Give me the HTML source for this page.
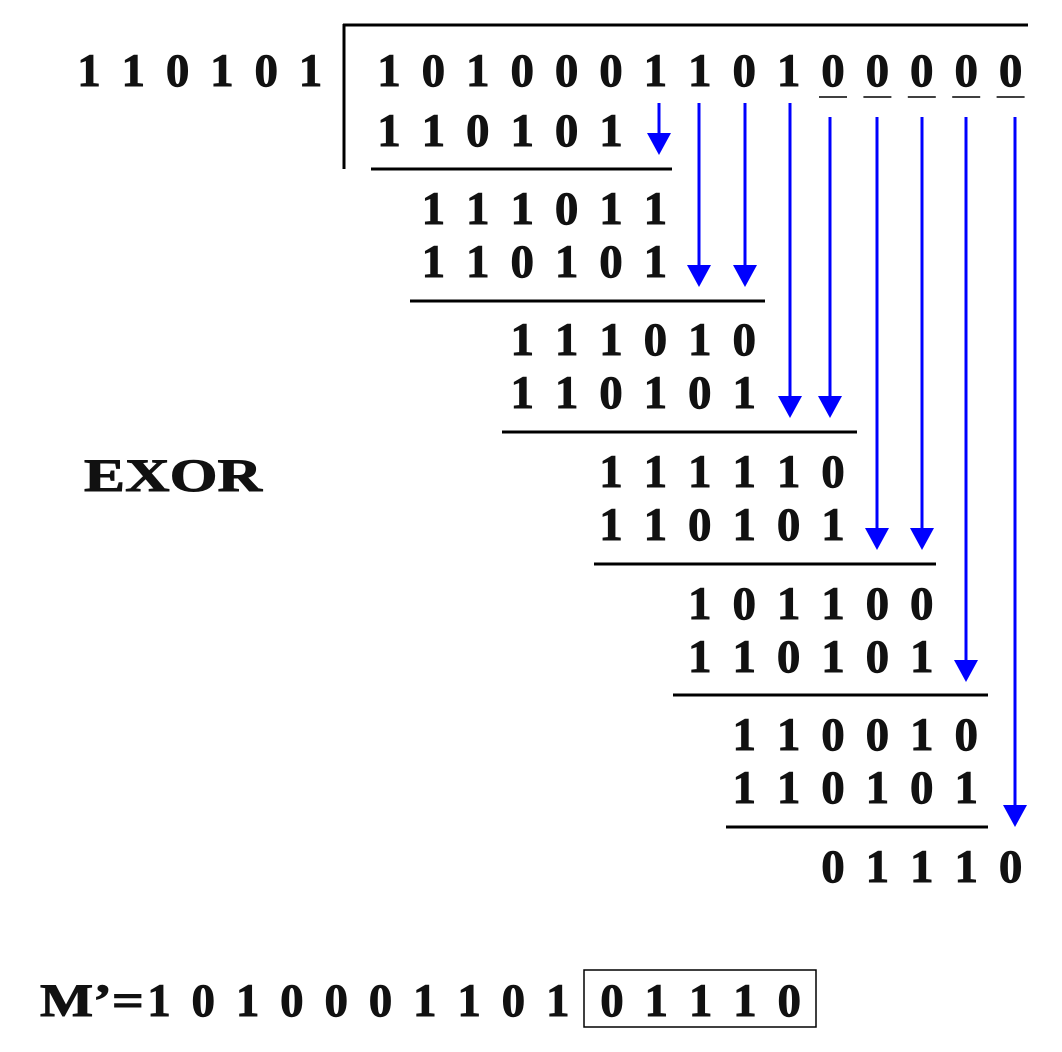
<!DOCTYPE html>
<html><head><meta charset="utf-8"><style>
html,body{margin:0;padding:0;background:#fff}
svg{display:block}
text{font-family:"Liberation Serif",serif;font-weight:bold;font-size:47px;fill:#111;stroke:#111;stroke-width:0.9px}
</style></head><body>
<svg id="s" width="1062" height="1052" viewBox="0 0 1062 1052" xmlns="http://www.w3.org/2000/svg">
<line x1="343" y1="25" x2="1028" y2="25" stroke="#000" stroke-width="3"/>
<line x1="344" y1="24" x2="344" y2="169" stroke="#000" stroke-width="3"/>
<text x="84" y="491" textLength="178" lengthAdjust="spacingAndGlyphs">EXOR</text>
<text x="40" y="1016" textLength="104" lengthAdjust="spacingAndGlyphs">M’=</text>
<rect x="584" y="970" width="232" height="57" fill="none" stroke="#000" stroke-width="1.5"/>
</svg>
<script>
const divisor = "110101";
const dividend = "101000110100000";
const rows = [
  {bits:"110101", start:0, base:146},
  {bits:"111011", start:1, base:224},
  {bits:"110101", start:1, base:277},
  {bits:"111010", start:3, base:355},
  {bits:"110101", start:3, base:408},
  {bits:"111110", start:5, base:487},
  {bits:"110101", start:5, base:540},
  {bits:"101100", start:7, base:619},
  {bits:"110101", start:7, base:672},
  {bits:"110010", start:8, base:750},
  {bits:"110101", start:8, base:803},
  {bits:"01110", start:10, base:882}
];
const rules = [[371,672,169],[410,765,301],[502,857,432],[594,936,564],[673,988,695],[726,988,827]];
const arrowCols = [6,7,8,9,10,11,12,13,14];
const arrowEnds = [155,287,287,418,418,550,550,682,827];
const arrowX = [659,699,745,790,830,877,922,966,1015];
const messageBits = "1010001101";
const crcBits = "01110";

const s = document.getElementById('s');
const NS = "http://www.w3.org/2000/svg";
const colX = i => 389 + 44.4*i;
function txt(x,y,c,name){
  const t=document.createElementNS(NS,'text');
  t.setAttribute('x',x);t.setAttribute('y',y);t.setAttribute('text-anchor','middle');
  t.textContent=c;
  
  
  s.appendChild(t);
}
function ln(x1,y1,x2,y2,col,w,name){
  const l=document.createElementNS(NS,'line');
  l.setAttribute('x1',x1);l.setAttribute('y1',y1);l.setAttribute('x2',x2);l.setAttribute('y2',y2);
  l.setAttribute('stroke',col);l.setAttribute('stroke-width',w);
  
  
  s.appendChild(l);
}
[...divisor].forEach((c,i)=>txt(89+44.3*i,86,c,'divisor-digit'));
[...dividend].forEach((c,i)=>txt(colX(i),86,c,'dividend-digit'));
for(let i=10;i<15;i++) ln(colX(i)-14,97,colX(i)+14,97,'#000',1.5,'appended-zero-underline');
rows.forEach(r=>[...r.bits].forEach((c,i)=>txt(colX(r.start+i),r.base,c,'step-digit')));
rules.forEach(r=>ln(r[0],r[2],r[1],r[2],'#000',3,'subtraction-rule'));
arrowCols.forEach((c,k)=>{
  const x=arrowX[k], y0 = c>=10?117:103, y1=arrowEnds[k];
  ln(x,y0,x,y1-20,'#00f',3,'bring-down-arrow-shaft');
  const p=document.createElementNS(NS,'polygon');
  p.setAttribute('points',`${x-12},${y1-22} ${x+12},${y1-22} ${x},${y1}`);
  p.setAttribute('fill','#00f');
  
  
  s.appendChild(p);
});
[...messageBits].forEach((c,i)=>txt(159+44.3*i,1016,c,'message-digit'));
[...crcBits].forEach((c,i)=>txt(612+44.3*i,1016,c,'crc-digit'));
</script>
</body></html>
